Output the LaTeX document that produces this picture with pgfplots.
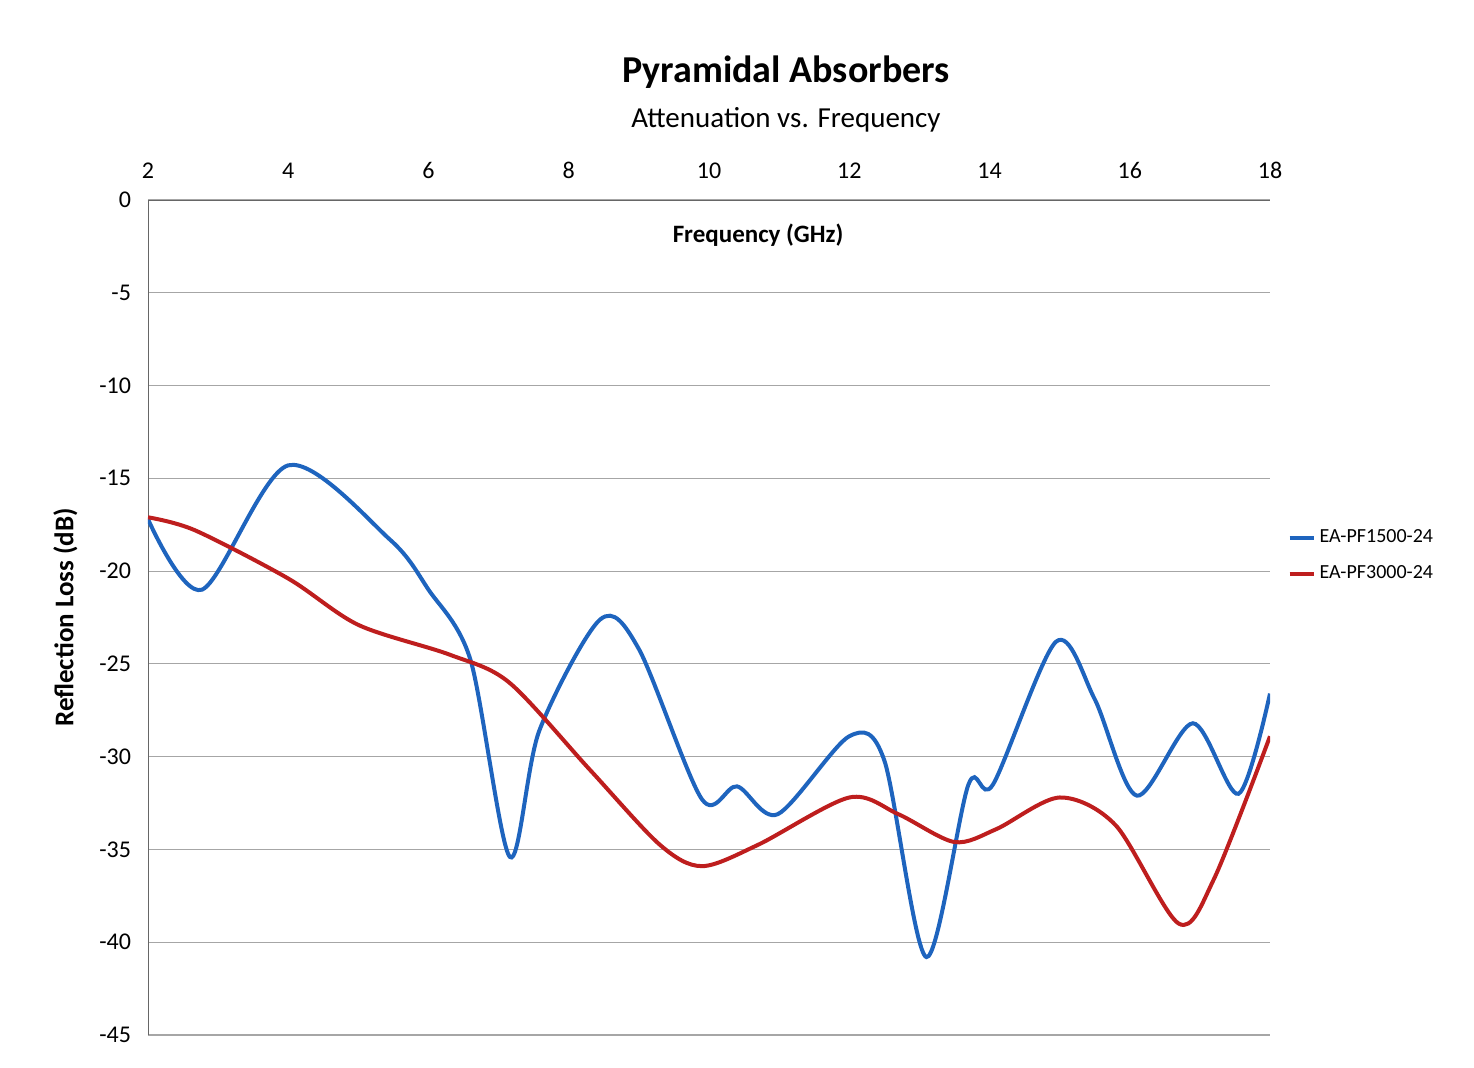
\documentclass[border=0pt]{standalone}
\usepackage{pgfplots}
\pgfplotsset{compat=1.18}
\usepackage{fontspec}
\setmainfont{Carlito}
\definecolor{bl}{RGB}{30,100,190}
\definecolor{rd}{RGB}{190,30,30}
\begin{document}
\begin{tikzpicture}
\useasboundingbox (-74pt,-16pt) rectangle (663pt,517.5pt);
\node at (319pt,481.5pt) {\fontsize{19}{21}\selectfont\textbf{Pyramidal Absorbers}};
\node at (319pt,457.5pt) {\fontsize{14.5}{16}\selectfont Attenuation vs. Frequency};
\begin{axis}[at={(0,0)},anchor=south west,scale only axis,width=561pt,height=417.5pt,
 xmin=2,xmax=18,ymin=-45,ymax=0,
 axis x line=top, axis y line=left, axis line style={-, gray!80!black},
 xtick={2,4,...,18}, ytick={0,-5,...,-45},
 ymajorgrids, grid style={gray!70, line width=0.6pt},
 major tick length=0pt,
 tick label style={font=\fontsize{12}{14}\selectfont},
 xticklabel style={yshift=7pt},
 yticklabel style={xshift=-5pt},
 /pgf/number format/assume math mode=true,
 ylabel={\textbf{Reflection Loss (dB)}}, ylabel style={font=\fontsize{13.5}{15}\selectfont, yshift=4pt},
 legend style={at={(1.01,0.615)},anchor=north west,draw=none,font=\fontsize{10}{14}\selectfont,row sep=6pt},
 legend image post style={xscale=0.7},
]
\node at (axis cs:10.7,-1.9) {\fontsize{12.5}{14}\selectfont\textbf{Frequency (GHz)}};
\addplot[bl,line width=2pt,smooth,tension=0.5] coordinates {
(2,-17.2)(2.77,-21.0)(4,-14.3)(5.45,-18.3)(6.0,-21)(6.6,-24.8)(7.16,-35.4)(7.58,-28.6)(8.45,-22.6)(9.0,-24.2)(9.9,-32.3)(10.4,-31.6)(10.98,-33.1)(12.0,-28.9)(12.5,-30.2)(13.1,-40.8)(13.7,-31.5)(14.05,-31.5)(14.95,-23.8)(15.5,-26.9)(16.1,-32.1)(16.9,-28.2)(17.55,-32)(18,-26.6)};
\addlegendentry{EA-PF1500-24}
\addplot[rd,line width=2pt,smooth,tension=0.5] coordinates {
(2,-17.1)(2.67,-17.8)(4,-20.4)(5.0,-22.9)(6.3,-24.5)(7.15,-26)(8.3,-30.7)(9.3,-34.75)(9.9,-35.9)(10.7,-34.75)(12.0,-32.2)(12.7,-33.1)(13.5,-34.6)(14.1,-33.9)(15.0,-32.2)(15.8,-33.7)(16.7,-39)(17.2,-36.6)(18,-28.9)};
\addlegendentry{EA-PF3000-24}
\end{axis}
\end{tikzpicture}
\end{document}
